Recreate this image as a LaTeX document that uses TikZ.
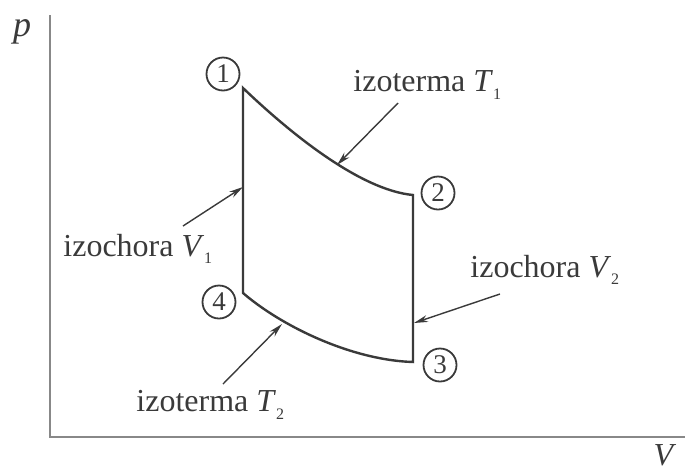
\documentclass[tikz,border=0pt]{standalone}
\usepackage{fontspec}
\setmainfont{Liberation Serif}
\usetikzlibrary{positioning,arrows.meta}
\definecolor{ink}{HTML}{3A3A3A}
\definecolor{axisc}{HTML}{888888}
\newcommand\lowidx[1]{\raisebox{-0.5ex}{\fontsize{8}{8}\selectfont #1}}

\begin{document}
\begin{tikzpicture}[x=0.5pt,y=-0.5pt,font=\fontsize{16}{19}\selectfont,text=ink,>={Stealth[length=7pt,width=3.5pt]}]
\tikzstyle{st}=[draw=ink,circle,line width=0.9pt,minimum size=16.5pt,inner sep=0pt,font=\fontsize{13.5}{14}\selectfont]
\tikzstyle{lbl}=[anchor=west,inner sep=0pt]
\tikzstyle{ptr}=[->,draw=ink,line width=0.7pt]
\useasboundingbox (0,0) rectangle (685,472);
% axes
\coordinate (o) at (50,437);
\coordinate (ptop) at (50,15);
\coordinate (vend) at (685,437);
\draw[axisc,line width=1.3pt] (ptop) -- (o) -- (vend);
\node (p) at (22,32) {\fontsize{18}{20}\selectfont\textit{p}};
\node[inner sep=0pt] (v) at (665,455) {\textit{V}};
% cycle
\coordinate (c1) at (243,88);
\coordinate (c2) at (413,195);
\coordinate (c3) at (413,362);
\coordinate (c4) at (243,293);
\draw[ink,line width=1.2pt,line join=miter] (c1) .. controls (290,133) and (360,190) .. (c2) -- (c3)
  .. controls (350,360) and (280,325) .. (c4) -- cycle;
\node[st] (n1) at (223,74) {1};
\node[st] (n2) at (438,193) {2};
\node[st] (n3) at (440,365) {3};
\node[st] (n4) at (219,302) {4};
% labels
\node[lbl] (t1) at (353,85) {izoterma \textit{T}\lowidx{1}};
\node[lbl] (v1) at (63,249) {izochora \textit{V}\lowidx{1}};
\node[lbl] (v2) at (470,270) {izochora \textit{V}\lowidx{2}};
\node[lbl] (t2) at (136,405) {izoterma \textit{T}\lowidx{2}};
% pointers
\coordinate (t1a) at (398,103); \coordinate (t1b) at (337,165);
\coordinate (v1a) at (183,226); \coordinate (v1b) at (243,187);
\coordinate (v2a) at (500,294); \coordinate (v2b) at (414,323);
\coordinate (t2a) at (223,384); \coordinate (t2b) at (282,324);
\draw[ptr] (t1a) -- (t1b);
\draw[ptr] (v1a) -- (v1b);
\draw[ptr] (v2a) -- (v2b);
\draw[ptr] (t2a) -- (t2b);
\end{tikzpicture}
\end{document}
